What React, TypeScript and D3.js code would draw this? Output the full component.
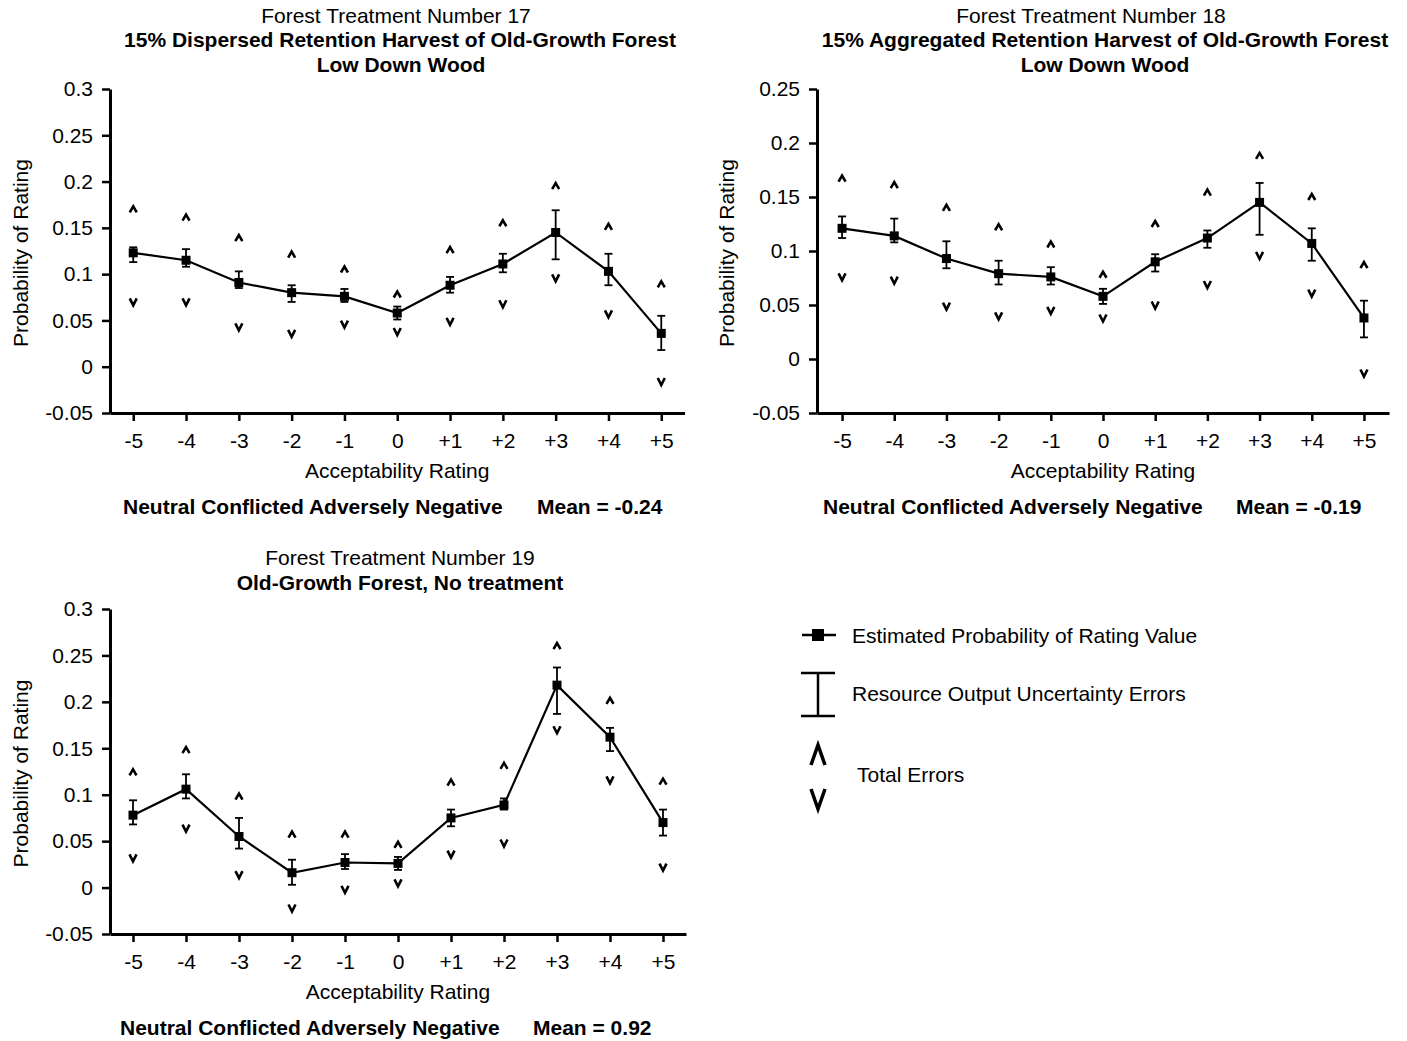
import React, { useEffect, useRef } from 'react';
import * as d3 from 'd3';

// rating categories along the x axis
const ratings = ['-5', '-4', '-3', '-2', '-1', '0', '+1', '+2', '+3', '+4', '+5'];

// Treatment 17
const prob17 = [0.123, 0.115, 0.091, 0.080, 0.076, 0.058, 0.088, 0.111, 0.145, 0.103, 0.036];
const errHi17 = [0.129, 0.127, 0.103, 0.088, 0.084, 0.065, 0.097, 0.122, 0.169, 0.122, 0.055];
const errLo17 = [0.113, 0.108, 0.085, 0.070, 0.070, 0.051, 0.080, 0.102, 0.116, 0.088, 0.018];
const totHi17 = [0.170, 0.161, 0.139, 0.121, 0.105, 0.078, 0.126, 0.155, 0.195, 0.151, 0.089];
const totLo17 = [0.070, 0.070, 0.043, 0.036, 0.046, 0.038, 0.049, 0.068, 0.096, 0.057, -0.016];

// Treatment 18
const prob18 = [0.121, 0.114, 0.093, 0.079, 0.076, 0.058, 0.090, 0.112, 0.145, 0.107, 0.038];
const errHi18 = [0.132, 0.130, 0.109, 0.091, 0.085, 0.065, 0.097, 0.119, 0.163, 0.121, 0.054];
const errLo18 = [0.112, 0.108, 0.084, 0.069, 0.069, 0.051, 0.081, 0.103, 0.115, 0.091, 0.020];
const totHi18 = [0.167, 0.161, 0.140, 0.122, 0.106, 0.078, 0.125, 0.154, 0.188, 0.150, 0.087];
const totLo18 = [0.076, 0.073, 0.049, 0.040, 0.045, 0.038, 0.050, 0.069, 0.096, 0.061, -0.013];

// Treatment 19
const prob19 = [0.078, 0.106, 0.055, 0.016, 0.027, 0.026, 0.075, 0.089, 0.218, 0.162, 0.070];
const errHi19 = [0.094, 0.122, 0.075, 0.030, 0.036, 0.033, 0.084, 0.096, 0.237, 0.172, 0.084];
const errLo19 = [0.068, 0.096, 0.042, 0.003, 0.020, 0.019, 0.066, 0.084, 0.187, 0.147, 0.056];
const totHi19 = [0.124, 0.148, 0.098, 0.057, 0.057, 0.046, 0.113, 0.131, 0.260, 0.201, 0.114];
const totLo19 = [0.032, 0.064, 0.014, -0.022, -0.002, 0.005, 0.036, 0.048, 0.170, 0.116, 0.022];

const yTicksA = [-0.05, 0, 0.05, 0.1, 0.15, 0.2, 0.25, 0.3];
const yTicksB = [-0.05, 0, 0.05, 0.1, 0.15, 0.2, 0.25];

const FONT = 'Liberation Sans, Arial, Helvetica, sans-serif';

const panels = [
	{
		prob: prob17, errHi: errHi17, errLo: errLo17, totHi: totHi17, totLo: totLo17,
		ticks: yTicksA, yMax: 0.3,
		x0: 110, x1: 684.5, yTop: 89, yBottom: 413, pad: 0.44, yLabelX: 20,
		titles: [
			{ text: 'Forest Treatment Number 17', x: 396, y: 22.5, bold: false },
			{ text: '15% Dispersed Retention Harvest of Old-Growth Forest', x: 400, y: 46.5, bold: true },
			{ text: 'Low Down Wood', x: 401, y: 71.5, bold: true },
		],
		summary: 'Neutral Conflicted Adversely Negative', summaryX: 123,
		mean: 'Mean = -0.24', meanX: 537,
	},
	{
		prob: prob18, errHi: errHi18, errLo: errLo18, totHi: totHi18, totLo: totLo18,
		ticks: yTicksB, yMax: 0.25,
		x0: 817, x1: 1389, yTop: 89, yBottom: 413, pad: 0.48, yLabelX: 726,
		titles: [
			{ text: 'Forest Treatment Number 18', x: 1091, y: 22.5, bold: false },
			{ text: '15% Aggregated Retention Harvest of Old-Growth Forest', x: 1105, y: 46.5, bold: true },
			{ text: 'Low Down Wood', x: 1105, y: 71.5, bold: true },
		],
		summary: 'Neutral Conflicted Adversely Negative', summaryX: 823,
		mean: 'Mean = -0.19', meanX: 1236,
	},
	{
		prob: prob19, errHi: errHi19, errLo: errLo19, totHi: totHi19, totLo: totLo19,
		ticks: yTicksA, yMax: 0.3,
		x0: 110, x1: 686, yTop: 609, yBottom: 934, pad: 0.434, yLabelX: 20,
		titles: [
			{ text: 'Forest Treatment Number 19', x: 400, y: 564.5, bold: false },
			{ text: 'Old-Growth Forest, No treatment', x: 400, y: 589.5, bold: true },
		],
		summary: 'Neutral Conflicted Adversely Negative', summaryX: 120,
		mean: 'Mean = 0.92', meanX: 533,
	},
];

export default function App() {
	const ref = useRef<SVGSVGElement>(null);

	useEffect(() => {
		const svg = d3.select(ref.current);
		svg.selectAll('*').remove();
		svg.style('font-family', FONT);

		panels.forEach(p => {
			const g = svg.append('g');
			const x = d3.scalePoint<string>().domain(ratings).range([p.x0, p.x1]).padding(p.pad);
			const y = d3.scaleLinear().domain([-0.05, p.yMax]).range([p.yBottom, p.yTop]);

			// titles
			p.titles.forEach(t => {
				g.append('text')
					.attr('x', t.x)
					.attr('y', t.y)
					.attr('text-anchor', 'middle')
					.style('font-size', '21px')
					.style('font-weight', t.bold ? 'bold' : 'normal')
					.text(t.text);
			});

			// axes
			const yAxis = d3
				.axisLeft(y)
				.tickValues(p.ticks)
				.tickFormat(d => String(+(+d).toFixed(2)))
				.tickSizeOuter(0)
				.tickSizeInner(8)
				.tickPadding(9);
			const ya = g.append('g').attr('transform', `translate(${p.x0},0)`).call(yAxis);

			const xAxis = d3.axisBottom(x).tickSizeOuter(0).tickSizeInner(8).tickPadding(12);
			const xa = g.append('g').attr('transform', `translate(0,${p.yBottom})`).call(xAxis);

			[ya, xa].forEach(a => {
				a.select('.domain').attr('stroke', '#000').attr('stroke-width', 3);
				a.selectAll('.tick line').attr('stroke', '#000').attr('stroke-width', 2.5);
				a.selectAll('.tick text')
					.attr('fill', '#000')
					.style('font-size', '21px')
					.style('font-family', FONT);
			});

			// axis labels
			g.append('text')
				.attr('transform', `translate(${p.yLabelX},${(p.yTop + p.yBottom) / 2 + 2}) rotate(-90)`)
				.attr('text-anchor', 'middle')
				.attr('dominant-baseline', 'central')
				.style('font-size', '21px')
				.text('Probability of Rating');
			g.append('text')
				.attr('x', (p.x0 + p.x1) / 2)
				.attr('y', p.yBottom + 64.5)
				.attr('text-anchor', 'middle')
				.style('font-size', '21px')
				.text('Acceptability Rating');
			g.append('text')
				.attr('x', p.summaryX)
				.attr('y', p.yBottom + 101)
				.style('font-size', '21px')
				.style('font-weight', 'bold')
				.text(p.summary);
			g.append('text')
				.attr('x', p.meanX)
				.attr('y', p.yBottom + 101)
				.style('font-size', '21px')
				.style('font-weight', 'bold')
				.text(p.mean);

			const idx = d3.range(ratings.length);

			// total error carets
			g.selectAll('path.up')
				.data(idx)
				.enter()
				.append('path')
				.attr('d', i => {
					const cx = x(ratings[i]), cy = y(p.totHi[i]);
					return `M${cx - 3.5},${cy + 3}L${cx},${cy - 3}L${cx + 3.5},${cy + 3}`;
				})
				.attr('fill', 'none')
				.attr('stroke', '#000')
				.attr('stroke-width', 2.6);
			g.selectAll('path.down')
				.data(idx)
				.enter()
				.append('path')
				.attr('d', i => {
					const cx = x(ratings[i]), cy = y(p.totLo[i]);
					return `M${cx - 3.5},${cy - 3.5}L${cx},${cy + 3.5}L${cx + 3.5},${cy - 3.5}`;
				})
				.attr('fill', 'none')
				.attr('stroke', '#000')
				.attr('stroke-width', 2.6);

			// error bars
			const eb = g.selectAll('g.eb').data(idx).enter().append('g');
			eb.append('line')
				.attr('x1', i => x(ratings[i]))
				.attr('x2', i => x(ratings[i]))
				.attr('y1', i => y(p.errHi[i]))
				.attr('y2', i => y(p.errLo[i]))
				.attr('stroke', '#000')
				.attr('stroke-width', 1.8);
			['errHi', 'errLo'].forEach(k => {
				eb.append('line')
					.attr('x1', i => x(ratings[i]) - 4)
					.attr('x2', i => x(ratings[i]) + 4)
					.attr('y1', i => y(p[k][i]))
					.attr('y2', i => y(p[k][i]))
					.attr('stroke', '#000')
					.attr('stroke-width', 1.8);
			});

			// probability line
			const line = d3
				.line<number>()
				.x(i => x(ratings[i]))
				.y(i => y(p.prob[i]));
			g.append('path')
				.attr('d', line(idx))
				.attr('fill', 'none')
				.attr('stroke', '#000')
				.attr('stroke-width', 2.2);

			g.selectAll('rect.pt')
				.data(idx)
				.enter()
				.append('rect')
				.attr('x', i => x(ratings[i]) - 4.5)
				.attr('y', i => y(p.prob[i]) - 4.5)
				.attr('width', 9)
				.attr('height', 9)
				.attr('fill', '#000');
		});

		// legend
		const lg = svg.append('g');
		lg.append('line').attr('x1', 802).attr('x2', 836).attr('y1', 635).attr('y2', 635).attr('stroke', '#000').attr('stroke-width', 2.5);
		lg.append('rect').attr('x', 812).attr('y', 629).attr('width', 12).attr('height', 12).attr('fill', '#000');
		lg.append('text').attr('x', 852).attr('y', 643).style('font-size', '21px').text('Estimated Probability of Rating Value');

		lg.append('line').attr('x1', 818).attr('x2', 818).attr('y1', 673).attr('y2', 716).attr('stroke', '#000').attr('stroke-width', 2.5);
		lg.append('line').attr('x1', 801).attr('x2', 835).attr('y1', 673).attr('y2', 673).attr('stroke', '#000').attr('stroke-width', 2.5);
		lg.append('line').attr('x1', 801).attr('x2', 835).attr('y1', 716).attr('y2', 716).attr('stroke', '#000').attr('stroke-width', 2.5);
		lg.append('text').attr('x', 852).attr('y', 701).style('font-size', '21px').text('Resource Output Uncertainty Errors');

		lg.append('path').attr('d', 'M811,765L818,745L825,765').attr('fill', 'none').attr('stroke', '#000').attr('stroke-width', 3.5);
		lg.append('path').attr('d', 'M811,789L818,809L825,789').attr('fill', 'none').attr('stroke', '#000').attr('stroke-width', 3.5);
		lg.append('text').attr('x', 857).attr('y', 782).style('font-size', '21px').text('Total Errors');
	}, []);

	return (
		<svg
			ref={ref}
			width={1407}
			height={1041}
			style={{ position: 'absolute', left: 0, top: 0, background: '#fff' }}
		/>
	);
}
